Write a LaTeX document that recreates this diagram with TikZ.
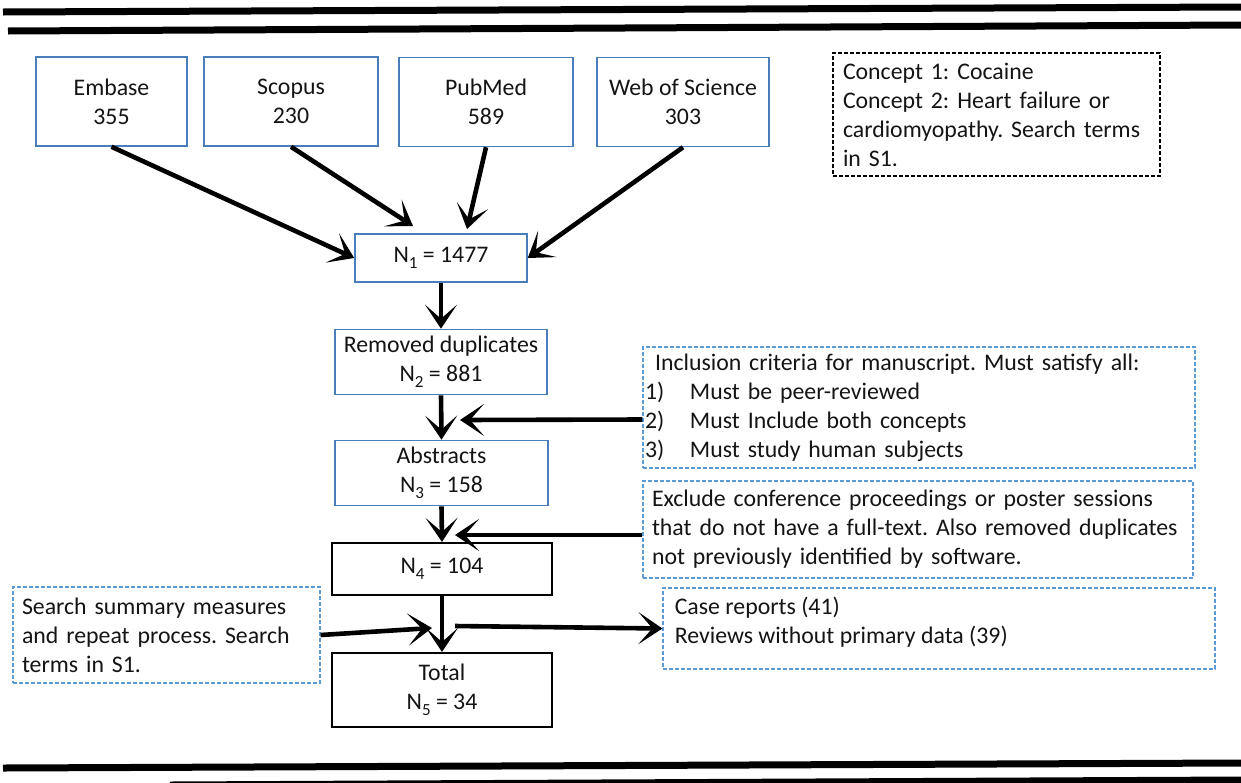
\documentclass[tikz,border=0pt]{standalone}
\usepackage{fontspec}
\setmainfont{Carlito}
\usetikzlibrary{arrows.meta}
\usetikzlibrary{calc}
\definecolor{boxblue}{RGB}{74,126,187}
\definecolor{noteblue}{RGB}{91,155,213}
\newcommand\lowidx[1]{\raisebox{-0.55ex}{\fontsize{8.5pt}{9pt}\selectfont #1}}
\frenchspacing

\tikzset{
  every node/.style={font=\fontsize{11.9pt}{14.5pt}\selectfont, text=black!92},
  srcbox/.style={draw=boxblue, line width=0.75pt, minimum width=87pt, minimum height=44.5pt, align=center},
  stepbox/.style={draw=boxblue, line width=0.75pt, align=center},
  endbox/.style={draw=black, line width=1.1pt, minimum width=110pt, align=center},
  notebox/.style={draw=noteblue, line width=0.6pt, dash pattern=on 2pt off 1pt, align=left},
  flow/.style={line width=2.3pt, -{Stealth[length=12pt,width=16pt,inset=7pt]}},
  bar/.style={line width=3.5pt}
}

\begin{document}
\begin{tikzpicture}[x=0.5pt,y=-0.5pt]
        \useasboundingbox (0,0) rectangle (1241,782);

        %%% BARS %%%
        \draw[bar] (3,12) -- (1241,7);
        \draw[bar] (8,31) -- (1241,25);
        \draw[bar] (3,768) -- (1241,763);
        \draw[bar] (170,785) -- (1241,780);

        %%% DATABASES %%%
        \node[srcbox, minimum width=75.5pt] (embase) at (111.5,101.5) {Embase\\355};
        \node[srcbox] (scopus) at (291,101.5) {Scopus\\230};
        \node[srcbox] (pubmed) at (486,102) {PubMed\\589};
        \node[srcbox, minimum width=86pt] (wos) at (683,102) {Web of Science\\303};

        %%% STEPS %%%
        \node[stepbox, minimum width=86pt, minimum height=24pt] (n1) at (441,258) {N\lowidx{1} = 1477};
        \node[stepbox, minimum width=106pt, minimum height=32pt] (dup) at (441,362) {Removed duplicates\\N\lowidx{2} = 881};
        \node[stepbox, minimum width=106.5pt, minimum height=32pt] (abs) at (441.5,473) {Abstracts\\N\lowidx{3} = 158};
        \node[endbox, minimum height=26pt] (n4) at (442,569) {N\lowidx{4} = 104};
        \node[endbox, minimum height=37pt] (total) at (442,690) {Total\\N\lowidx{5} = 34};

        %%% NOTES %%%
        \node[notebox, draw=black, dash pattern=on 1.8pt off 1.2pt, minimum width=163.5pt, minimum height=61.5pt,
              inner xsep=5pt, text width=153.5pt] (concept) at (996.5,114.5)
              {Concept 1: Cocaine\\Concept 2: Heart failure or\\cardiomyopathy. Search terms\\in S1.};
        \node[notebox, minimum width=276pt, minimum height=60.5pt, inner xsep=1pt, text width=274pt] (incl) at (919,407.5)
              {\hspace*{5pt}Inclusion criteria for manuscript. Must satisfy all:\\
               \makebox[22.5pt][l]{1)}Must be peer-reviewed\\
               \makebox[22.5pt][l]{2)}Must Include both concepts\\
               \makebox[22.5pt][l]{3)}Must study human subjects};
        \node[notebox, minimum width=275pt, minimum height=48.5pt, inner xsep=4.5pt, text width=266pt] (excl) at (918,529.5)
              {Exclude conference proceedings or poster sessions\\that do not have a full-text. Also removed duplicates\\not previously identified by software.};
        \node[notebox, minimum width=276pt, minimum height=40.5pt,
              label={[anchor=north west, align=left, inner sep=0pt, xshift=6pt, yshift=-4.5pt]north west:{Case reports (41)\\Reviews without primary data (39)}}]
              (cases) at (939,628.5) {};
        \node[notebox, minimum width=153.5pt, minimum height=48pt, inner xsep=4.5pt, text width=144.5pt] (search) at (166.5,635)
              {Search summary measures\\and repeat process. Search\\terms in S1.};

        %%% FREE ENDS %%%
        \coordinate (scopusin) at (413,226);
        \coordinate (pubmedin) at (467,229);
        \coordinate (inclin) at (460,420);
        \coordinate (exclin) at (455,535);
        \coordinate (searchin) at (432,628);
        \coordinate (casesout) at (455,626);

        %%% ARROWS %%%
        \draw[flow] (embase.south) -- (n1.west);
        \draw[flow] (scopus.south) -- (scopusin);
        \draw[flow] (pubmed.south) -- (pubmedin);
        \draw[flow] (wos.south) -- (n1.east);
        \draw[flow] (n1.south) -- (dup.north);
        \draw[flow] (dup.south) -- (abs.north);
        \draw[flow] ([yshift=-6pt]incl.west) -- (inclin);
        \draw[flow] (abs.south) -- (n4.north);
        \draw[flow] ([yshift=-2.75pt]excl.west) -- (exclin);
        \draw[flow] (n4.south) -- (total.north);
        \draw[flow] (search.east) -- (searchin);
        \draw[flow] (casesout) -- (cases.west);
\end{tikzpicture}
\end{document}
